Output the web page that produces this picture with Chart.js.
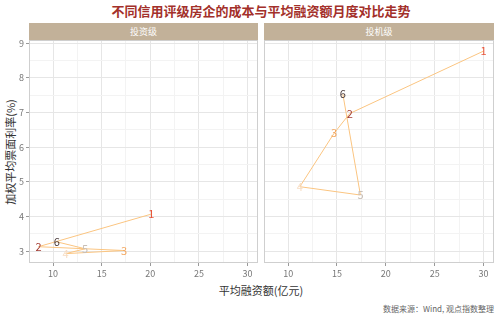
<!DOCTYPE html>
<html>
<head>
<meta charset="utf-8">
<script src="https://cdn.jsdelivr.net/npm/chart.js@4"></script>
<style>
  body { margin: 0; width: 500px; height: 316px; background: #fff; position: relative; overflow: hidden;
         font-family: "Noto Sans CJK SC", "Noto Sans", sans-serif; }
  .abs { position: absolute; }
  .strip { position: absolute; top: 23px; height: 17px; background: #c2b199; color: #fff;
           font-size: 9px; line-height: 17px; text-align: center; }
  canvas { position: absolute; }
</style>
</head>
<body>
<div class="abs" style="left:11px;top:1px;width:500px;text-align:center;font-size:13px;font-weight:bold;color:#a3302a;">不同信用评级房企的成本与平均融资额月度对比走势</div>
<div class="strip" style="left:29px;width:229px;">投资级</div>
<div class="strip" style="left:264px;width:230px;">投机级</div>
<div class="abs" style="left:-90px;top:144px;width:200px;text-align:center;font-size:11px;color:#333;transform:rotate(-90deg);">加权平均票面利率(%)</div>
<div class="abs" style="left:161px;top:282px;width:200px;text-align:center;font-size:11px;color:#333;">平均融资额(亿元)</div>
<div class="abs" style="right:6px;top:303px;font-size:8px;color:#666;">数据来源：Wind, 观点指数整理</div>
<div class="abs" style="left:0;top:30px;width:260px;height:255px;"><canvas id="investChart"></canvas></div>
<div class="abs" style="left:262px;top:30px;width:238px;height:255px;"><canvas id="specChart"></canvas></div>
<script>
// 月份标签（1-6月）
const monthLabels = ['1', '2', '3', '4', '5', '6'];
const labelColors = ['#e8553a', '#a23b33', '#f2a55c', '#f7dcc2', '#c9bfb6', '#4a3a3a'];

// 投资级
const investAmount = [20.1, 8.5, 17.3, 11.3, 13.3, 10.4];
const investRate = [4.07, 3.13, 3.02, 2.93, 3.07, 3.27];

// 投机级
const specAmount = [30.0, 16.3, 14.7, 11.2, 17.4, 15.6];
const specRate = [8.77, 6.97, 6.40, 4.86, 4.62, 7.53];

const xRange = [7.53, 31.07];
const yRange = [2.66, 9.09];

// 画出面板边框
const panelBorder = {
    id: 'panelBorder',
    afterDraw(chart) {
        const a = chart.chartArea, c = chart.ctx;
        c.save();
        c.strokeStyle = '#cfcfcf';
        c.lineWidth = 1;
        c.strokeRect(a.left + 0.5, a.top + 0.5, a.width - 1, a.height - 1);
        c.restore();
    }
};

// 在每个点上写月份数字
const monthText = {
    id: 'monthText',
    afterDatasetsDraw(chart) {
        const meta = chart.getDatasetMeta(0);
        const c = chart.ctx;
        c.save();
        c.font = '11px "Noto Sans CJK SC", sans-serif';
        c.textAlign = 'center';
        c.textBaseline = 'middle';
        meta.data.forEach((pt, i) => {
            c.fillStyle = labelColors[i];
            c.fillText(monthLabels[i], pt.x, pt.y);
        });
        c.restore();
    }
};

function makeChart(id, xs, ys, showY) {
    const points = xs.map((x, i) => ({ x: x, y: ys[i] }));
    return new Chart(document.getElementById(id), {
        type: 'scatter',
        data: {
            datasets: [{
                data: points,
                showLine: true,
                borderColor: '#fbc581',
                borderWidth: 1,
                pointRadius: 0,
                pointHoverRadius: 0,
            }]
        },
        options: {
            responsive: true,
            maintainAspectRatio: false,
            animation: false,
            events: [],
            layout: { padding: { left: showY ? 0 : 2, right: showY ? 2 : 6, top: 10, bottom: 0 } },
            plugins: { legend: { display: false }, tooltip: { enabled: false } },
            scales: {
                x: {
                    type: 'linear',
                    min: xRange[0],
                    max: xRange[1],
                    border: { display: false },
                    grid: {
                        color: (ctx) => ctx.tick && ctx.tick.value % 5 === 0 ? '#e6e6e6' : '#f3f3f3',
                        tickLength: 3,
                        tickColor: (ctx) => ctx.tick && ctx.tick.value % 5 === 0 ? '#999' : 'rgba(0,0,0,0)',
                    },
                    ticks: {
                        stepSize: 2.5,
                        includeBounds: false,
                        autoSkip: false,
                        maxRotation: 0,
                        padding: 2,
                        color: '#777',
                        font: { size: 9, family: '"Noto Sans CJK SC", sans-serif' },
                        callback: (v) => v % 5 === 0 ? v : '',
                    },
                    afterFit: (s) => { s.height = 22; },
                },
                y: {
                    type: 'linear',
                    display: true,
                    min: yRange[0],
                    max: yRange[1],
                    border: { display: false },
                    grid: {
                        color: (ctx) => ctx.tick && ctx.tick.value % 1 === 0 ? '#e6e6e6' : '#f3f3f3',
                        tickLength: showY ? 3 : 0,
                        tickColor: (ctx) => showY && ctx.tick && ctx.tick.value % 1 === 0 ? '#999' : 'rgba(0,0,0,0)',
                    },
                    ticks: {
                        display: showY,
                        stepSize: 0.5,
                        includeBounds: false,
                        autoSkip: false,
                        padding: 2,
                        color: '#777',
                        font: { size: 9, family: '"Noto Sans CJK SC", sans-serif' },
                        callback: (v) => v % 1 === 0 ? v : '',
                    },
                    afterFit: (s) => { s.width = showY ? 29 : 0; },
                }
            }
        },
        plugins: [panelBorder, monthText]
    });
}

makeChart('investChart', investAmount, investRate, true);
makeChart('specChart', specAmount, specRate, false);
</script>
</body>
</html>
